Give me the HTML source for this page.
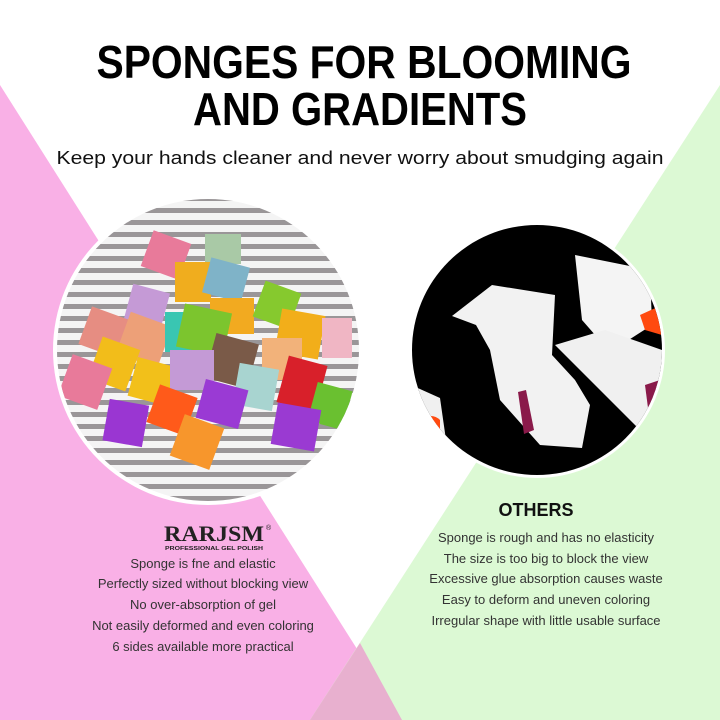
<!DOCTYPE html>
<html><head><meta charset="utf-8"><style>
html,body{margin:0;padding:0;width:720px;height:720px;overflow:hidden;background:#fff}
svg{display:block}
</style></head><body>
<svg width="720" height="720" viewBox="0 0 720 720" xmlns="http://www.w3.org/2000/svg" font-family="Liberation Sans, sans-serif">
<defs>
<clipPath id="cl"><circle cx="208" cy="350" r="151"/></clipPath>
<clipPath id="cr"><circle cx="537" cy="350" r="125"/></clipPath>
<pattern id="st" width="20" height="12" patternUnits="userSpaceOnUse"><rect width="20" height="12" fill="#f4f4f4"/><rect y="4" width="20" height="5" fill="#9a9698"/></pattern>
</defs>
<rect width="720" height="720" fill="#fff"/>
<polygon points="0,85 402,720 0,720" fill="#f9b0e6"/>
<polygon points="720,85 720,720 310,720" fill="#dcf9d4"/>
<polygon points="310,720 360,643 402,720" fill="#e8b0cf"/>

<text x="364" y="78" text-anchor="middle" font-size="46" font-weight="bold" fill="#000" textLength="535" lengthAdjust="spacingAndGlyphs">SPONGES FOR BLOOMING</text>
<text x="360" y="125" text-anchor="middle" font-size="46" font-weight="bold" fill="#000" textLength="334" lengthAdjust="spacingAndGlyphs">AND GRADIENTS</text>
<text x="360" y="164" text-anchor="middle" font-size="18" fill="#111" textLength="607" lengthAdjust="spacingAndGlyphs">Keep your hands cleaner and never worry about smudging again</text>

<circle cx="208" cy="350" r="155" fill="#fff"/>
<g clip-path="url(#cl)">
<rect x="50" y="190" width="320" height="320" fill="url(#st)"/>
<g stroke="none">
<rect x="146" y="236" width="40" height="38" fill="#e87a9a" transform="rotate(20 166 255)"/>
<rect x="205" y="234" width="36" height="30" fill="#a9c9a6"/>
<rect x="175" y="262" width="36" height="40" fill="#f0ad1e"/>
<rect x="206" y="262" width="40" height="36" fill="#7fb3c8" transform="rotate(15 226 280)"/>
<rect x="128" y="288" width="38" height="36" fill="#c59ad6" transform="rotate(15 147 306)"/>
<rect x="210" y="298" width="44" height="36" fill="#f2aa20"/>
<rect x="258" y="286" width="38" height="38" fill="#86c92e" transform="rotate(20 277 305)"/>
<rect x="278" y="312" width="44" height="44" fill="#f2ae1a" transform="rotate(10 300 334)"/>
<rect x="322" y="318" width="30" height="40" fill="#f0b6c4"/>
<rect x="84" y="312" width="40" height="40" fill="#e68d82" transform="rotate(20 104 332)"/>
<rect x="122" y="318" width="44" height="44" fill="#eda078" transform="rotate(20 144 340)"/>
<rect x="165" y="312" width="30" height="40" fill="#39c6b2"/>
<rect x="180" y="308" width="48" height="44" fill="#7cc52e" transform="rotate(12 204 330)"/>
<rect x="210" y="338" width="44" height="46" fill="#7a5a48" transform="rotate(15 232 360)"/>
<rect x="262" y="338" width="40" height="42" fill="#f2b27a"/>
<rect x="282" y="360" width="40" height="48" fill="#d8202a" transform="rotate(15 302 384)"/>
<rect x="94" y="342" width="40" height="44" fill="#f2bd1a" transform="rotate(20 114 364)"/>
<rect x="64" y="360" width="42" height="44" fill="#e87a9a" transform="rotate(20 85 382)"/>
<rect x="132" y="362" width="44" height="40" fill="#f2c01a" transform="rotate(15 154 382)"/>
<rect x="170" y="350" width="44" height="40" fill="#c49ad6"/>
<rect x="236" y="366" width="40" height="42" fill="#a8d4d0" transform="rotate(10 256 386)"/>
<rect x="312" y="386" width="36" height="40" fill="#6ac030" transform="rotate(15 330 406)"/>
<rect x="152" y="390" width="40" height="40" fill="#ff5a1a" transform="rotate(20 172 410)"/>
<rect x="200" y="384" width="44" height="40" fill="#9a3ad4" transform="rotate(15 222 404)"/>
<rect x="106" y="402" width="40" height="42" fill="#9a36d2" transform="rotate(10 126 422)"/>
<rect x="176" y="420" width="42" height="44" fill="#f7962c" transform="rotate(20 197 442)"/>
<rect x="274" y="406" width="44" height="42" fill="#9a3ad2" transform="rotate(10 296 427)"/>
</g>
</g>

<circle cx="537" cy="350" r="128" fill="#fff"/>
<g clip-path="url(#cr)">
<rect x="400" y="215" width="280" height="280" fill="#000"/>
<polygon points="492,285 555,295 552,355 575,380 590,405 582,448 540,445 500,400 490,350 476,325 452,316" fill="#f2f2f2"/>
<polygon points="575,255 650,270 652,325 610,352 582,320" fill="#f4f4f4"/>
<polygon points="555,345 605,330 662,350 662,420 640,430" fill="#f0f0f0"/>
<polygon points="400,380 440,398 446,440 420,452 400,440" fill="#f0f0f0"/>
<path d="M412,425 Q430,410 440,420 L440,435 L418,445 Z" fill="#ff4a10"/>
<path d="M518,392 L526,390 L534,430 L524,434 Z" fill="#8a1a4a"/>
<path d="M640,315 L662,305 L662,335 L645,330 Z" fill="#ff4a10"/>
<path d="M645,385 L660,380 L660,405 L648,408 Z" fill="#8a1a4a"/>
</g>

<text x="214" y="541" text-anchor="middle" font-family="Liberation Serif, serif" font-size="22" font-weight="bold" fill="#222" textLength="100" lengthAdjust="spacingAndGlyphs">RARJSM</text>
<text x="266" y="530" font-size="7" fill="#222">®</text>
<text x="214" y="550" text-anchor="middle" font-size="5" font-weight="bold" fill="#222" textLength="98" lengthAdjust="spacingAndGlyphs">PROFESSIONAL GEL POLISH</text>
<g font-size="13" fill="#333" text-anchor="middle">
<text x="203" y="568">Sponge is fne and elastic</text>
<text x="203" y="588">Perfectly sized without blocking view</text>
<text x="203" y="609">No over-absorption of gel</text>
<text x="203" y="630">Not easily deformed and even coloring</text>
<text x="203" y="651">6 sides available more practical</text>
</g>
<text x="536" y="516" text-anchor="middle" font-size="18" font-weight="bold" fill="#111">OTHERS</text>
<g font-size="13" fill="#333" text-anchor="middle">
<text x="546" y="542">Sponge is rough and has no elasticity</text>
<text x="546" y="563">The size is too big to block the view</text>
<text x="546" y="583">Excessive glue absorption causes waste</text>
<text x="546" y="604">Easy to deform and uneven coloring</text>
<text x="546" y="625">Irregular shape with little usable surface</text>
</g>
</svg>
</body></html>
